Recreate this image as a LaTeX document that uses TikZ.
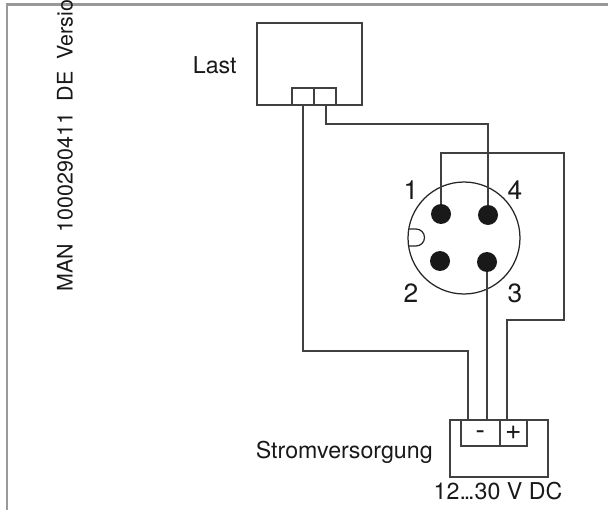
\documentclass[tikz,border=0pt]{standalone}
\usepackage{fontspec}
\setmainfont{TeX Gyre Heros}
\begin{document}
\begin{tikzpicture}[x=0.02cm, y=-0.02cm,
		wire/.style={line width=0.35mm, color=black!75},
		box/.style={draw, line width=0.35mm, color=black!75, text=black!90, inner sep=0pt, anchor=north west},
		pin/.style={circle, fill=black!90, inner sep=0pt, minimum size=0.4cm},
		label/.style={inner sep=0pt, text=black!90, font=\fontsize{13.2}{15}\selectfont},
		number/.style={inner sep=0pt, text=black!90, font=\fontsize{15}{17}\selectfont}]
		%%%%% START %%%%%
		
		\useasboundingbox (0, 0) rectangle (608, 510);
		
		\draw[line width=0.6mm, color=black!40] (608, 5) -- (7, 5) -- (7, 510);
		\node[label, rotate=90, anchor=base west, font=\fontsize{12.2}{14}\selectfont] (docnumber) at (72.5, 292) {MAN\ \ 1000290411\ \ DE\ \ Version};
		
		% load
		\node[box, minimum width=2.1cm, minimum height=1.64cm] (last) at (256, 22) {};
		\node[box, minimum width=0.44cm, minimum height=0.34cm] (lastL) at (291, 87) {};
		\node[box, minimum width=0.44cm, minimum height=0.34cm] (lastR) at (313, 87) {};
		\node[label, anchor=east] (lastlabel) at (237, 65) {Last};
		
		% connector
		\node[draw, circle, line width=0.25mm, color=black!85, inner sep=0pt, minimum size=2.24cm] (plug) at (464, 238) {};
		\draw[line width=0.25mm, color=black!85] (409, 229) -- (416, 229) arc (-90:90:8.5) -- (409, 246);
		\node[pin] (pin1) at (441, 214) {};
		\node[pin] (pin4) at (488, 215) {};
		\node[pin] (pin2) at (440, 261) {};
		\node[pin] (pin3) at (487, 262) {};
		\node[number] (num1) at (411, 190) {1};
		\node[number] (num4) at (515, 190) {4};
		\node[number] (num2) at (411, 293) {2};
		\node[number] (num3) at (515, 293) {3};
		
		% power supply
		\node[box, minimum width=1.96cm, minimum height=1.14cm] (supply) at (449, 419) {};
		\node[box, minimum width=0.78cm, minimum height=0.52cm, text height=8pt, text depth=0pt, font=\fontsize{16}{18}\selectfont] (minus) at (460, 419) {-};
		\node[box, minimum width=0.54cm, minimum height=0.52cm, font=\fontsize{16}{18}\selectfont] (plus) at (499, 419) {+};
		\node[label, anchor=east] (supplylabel) at (433, 452) {Stromversorgung};
		\node[label] (voltage) at (498, 491) {12.\kern-1.2pt.\kern-1.2pt.30 V DC};
		
		\coordinate (lastout) at (326, 104);
		\coordinate (minusA) at (468, 419);
		\coordinate (minusB) at (487, 419);
		\coordinate (plusA) at (507, 419);
		
		\draw[wire] (lastL.south) |- (468, 351) -- (minusA);
		\draw[wire] (lastout) |- (488, 124) -- (pin4);
		\draw[wire] (pin1) |- (564, 153) |- (507, 320) -- (plusA);
		\draw[wire] (pin3) -- (minusB);
		
		%%%%% END %%%%%
	\end{tikzpicture}
\end{document}
